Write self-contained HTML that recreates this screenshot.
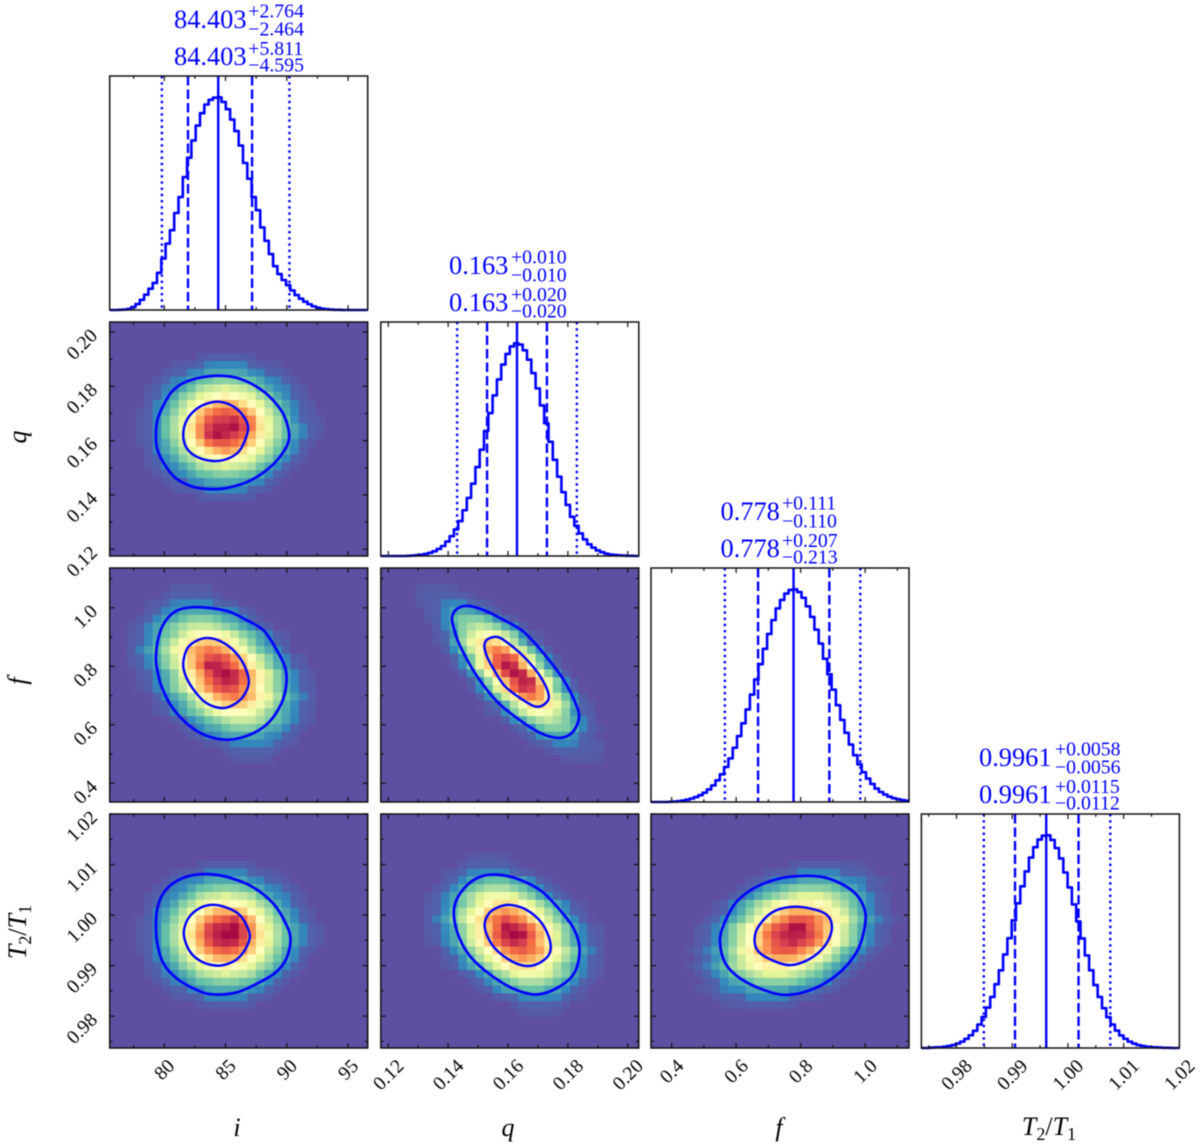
<!DOCTYPE html>
<html lang="en">
<head>
<meta charset="utf-8">
<title>Corner plot of i, q, f and T2/T1</title>
<style>
html,body{margin:0;padding:0;background:#fff;width:1200px;height:1147px;overflow:hidden}
svg{display:block;font-family:"Liberation Serif",serif;filter:blur(0.4px)}
.val{fill:#0000ff;font-size:26.4px}
.scr{fill:#0000ff;font-size:19.8px}
.axt{fill:#000;font-size:26px;font-style:italic}
.axt .up{font-style:normal}
.axt .sub{font-style:normal;font-size:18px}
</style>
</head>
<body>
<svg id="chart" xmlns="http://www.w3.org/2000/svg" width="1200" height="1147" viewBox="0 0 1200 1147">
  <rect width="1200" height="1147" fill="#fff"/>
  <g id="marks"></g>

  <g>
    <text class="val" x="174" y="28">84.403</text><text class="scr" x="248.3" y="17.5">+2.764</text><text class="scr" x="248.3" y="35.5">−2.464</text>
    <text class="val" x="174" y="65">84.403</text><text class="scr" x="248.3" y="55">+5.811</text><text class="scr" x="248.3" y="71.7">−4.595</text>
  </g>
  <g>
    <text class="val" x="449" y="274">0.163</text><text class="scr" x="511" y="263.5">+0.010</text><text class="scr" x="511" y="281.5">−0.010</text>
    <text class="val" x="449" y="311">0.163</text><text class="scr" x="511" y="301">+0.020</text><text class="scr" x="511" y="317.7">−0.020</text>
  </g>
  <g>
    <text class="val" x="720.5" y="520">0.778</text><text class="scr" x="782" y="509.5">+0.111</text><text class="scr" x="782" y="527.5">−0.110</text>
    <text class="val" x="720.5" y="557">0.778</text><text class="scr" x="782" y="547">+0.207</text><text class="scr" x="782" y="563.7">−0.213</text>
  </g>
  <g>
    <text class="val" x="979" y="766">0.9961</text><text class="scr" x="1055" y="755.5">+0.0058</text><text class="scr" x="1055" y="773.5">−0.0056</text>
    <text class="val" x="979" y="803">0.9961</text><text class="scr" x="1055" y="793">+0.0115</text><text class="scr" x="1055" y="809.7">−0.0112</text>
  </g>

  <text class="axt" x="237" y="1136" text-anchor="middle">i</text>
  <text class="axt" x="508" y="1136" text-anchor="middle">q</text>
  <text class="axt" x="779" y="1136" text-anchor="middle">f</text>
  <text class="axt" x="1049" y="1135" text-anchor="middle">T<tspan class="sub" dy="5">2</tspan><tspan class="up" dy="-5">/</tspan>T<tspan class="sub" dy="5">1</tspan></text>

  <text class="axt" transform="translate(26 437) rotate(-90)" text-anchor="middle">q</text>
  <text class="axt" transform="translate(26 681) rotate(-90)" text-anchor="middle">f</text>
  <text class="axt" transform="translate(26 932) rotate(-90)" text-anchor="middle">T<tspan class="sub" dy="5">2</tspan><tspan class="up" dy="-5">/</tspan>T<tspan class="sub" dy="5">1</tspan></text>
</svg>

<script>
// ---------- axis data ----------
const parameters = ['i', 'q', 'f', 't'];
const iRange = [75.55, 96.6];
const qRange = [0.1175, 0.2037];
const fRange = [0.336, 1.136];
const tRange = [0.9737, 1.02];
const iTickLabels = ['80', '85', '90', '95'];
const qTickLabels = ['0.12', '0.14', '0.16', '0.18', '0.20'];
const fTickLabels = ['0.4', '0.6', '0.8', '1.0'];
const tTickLabels = ['0.98', '0.99', '1.00', '1.01', '1.02'];
const iMinorTicks = [77.5, 82.5, 87.5, 92.5];
const qMinorTicks = [0.13, 0.15, 0.17, 0.19];
const fMinorTicks = [0.5, 0.7, 0.9, 1.1];
const tMinorTicks = [0.975, 0.985, 0.995, 1.005, 1.015];

// ---------- credible intervals: low 2-sigma, low 1-sigma, median, high 1-sigma, high 2-sigma ----------
const iQuantiles = [79.808, 81.939, 84.403, 87.167, 90.214];
const qQuantiles = [0.143, 0.153, 0.163, 0.173, 0.183];
const fQuantiles = [0.565, 0.668, 0.778, 0.889, 0.985];
const tQuantiles = [0.9849, 0.9905, 0.9961, 1.0019, 1.0076];

// ---------- marginal histograms (60 bins, peak-normalised) ----------
const iHist = [0,0,.001,.002,.005,.014,.028,.048,.072,.1,.127,.175,.242,.312,.375,.456,.531,.625,.716,.797,.867,.925,.966,.988,.998,1,.978,.944,.895,.841,.773,.691,.617,.531,.469,.388,.325,.263,.206,.169,.141,.117,.092,.07,.053,.039,.027,.017,.011,.006,.004,.002,.001,.001,0,0,0,0,0,0];
const qHist = [0,0,0,0,0,0,.001,.002,.004,.006,.01,.015,.022,.033,.047,.068,.093,.125,.164,.215,.273,.34,.418,.5,.588,.672,.755,.83,.9,.95,.985,1,.994,.967,.923,.86,.788,.708,.624,.537,.452,.373,.3,.24,.184,.142,.106,.078,.055,.039,.026,.018,.011,.007,.005,.003,.002,.001,.001,0];
const fHist = [0,0,0,0,.001,.002,.004,.007,.011,.016,.023,.032,.044,.059,.078,.102,.13,.165,.205,.255,.31,.37,.435,.505,.576,.648,.72,.79,.855,.91,.95,.98,.997,1,.987,.96,.92,.87,.81,.745,.673,.6,.528,.455,.386,.325,.27,.22,.177,.14,.11,.085,.063,.047,.035,.025,.018,.013,.009,.006];
const tHist = [0,0,.002,.003,.004,.006,.01,.014,.021,.03,.043,.06,.081,.11,.146,.19,.24,.3,.365,.44,.516,.6,.68,.76,.83,.895,.944,.98,.998,1,.978,.94,.891,.825,.755,.675,.595,.515,.435,.365,.296,.24,.187,.145,.11,.082,.059,.043,.03,.021,.014,.01,.006,.004,.003,.002,.001,.001,0,0];

// ---------- 2D densities (30 x 30 bins, top row first, level 0-20; omitted cells are level 0) ----------
const heatQI = [
[],[],[],[],
[0,0,0,0,0,0,0,0,0,0,1,1,1,1,1,1,1],
[0,0,0,0,0,0,0,1,1,1,1,2,2,2,2,2,1,1,1,1],
[0,0,0,0,0,0,1,1,1,2,2,3,3,3,3,3,2,2,1,1,1],
[0,0,0,0,0,1,1,2,2,3,4,4,5,5,5,4,4,3,2,2,1,1],
[0,0,0,0,1,1,2,2,3,4,6,7,7,8,7,7,6,4,3,2,2,1,1],
[0,0,0,0,1,1,2,3,5,6,8,9,10,11,10,9,8,6,5,3,2,1,1],
[0,0,0,0,1,2,3,4,6,8,10,12,14,14,14,12,10,8,6,4,3,2,1,1],
[0,0,0,1,1,2,3,5,7,10,13,15,16,17,16,15,13,10,7,5,3,2,1,1],
[0,0,0,1,1,2,4,6,8,11,14,17,18,18,19,17,16,11,8,6,4,2,1,1,1],
[0,0,0,1,1,2,4,6,9,12,15,18,19,19,20,18,16,12,9,6,4,3,2,1,1],
[0,0,0,1,1,2,4,6,8,11,15,19,20,19,18,17,14,11,8,6,4,3,2,1,1],
[0,0,0,1,1,2,3,5,7,10,13,16,17,17,16,15,13,10,7,5,3,2,1,1],
[0,0,0,0,1,2,3,4,6,8,10,12,14,15,14,12,10,8,6,4,3,2,1],
[0,0,0,0,1,1,2,3,5,6,8,9,10,11,10,9,8,6,5,3,2,1,1],
[0,0,0,0,1,1,2,2,3,4,6,7,7,8,7,7,6,4,3,2,1,1],
[0,0,0,0,0,1,1,2,2,3,4,4,5,5,5,4,4,3,2,1,1],
[0,0,0,0,0,0,1,1,1,2,2,3,3,3,3,3,2,2,1,1],
[0,0,0,0,0,0,0,1,1,1,1,2,2,2,2,2,1,1,1],
[0,0,0,0,0,0,0,0,0,0,1,1,1,1,1,1,1]
];
const heatFI = [
[],[],
[0,0,0,0,0,0,0,1,1,1,1,1],
[0,0,0,0,0,0,1,1,1,1,1,1,1],
[0,0,0,0,1,1,1,2,2,2,2,2,1,1,1],
[0,0,0,0,1,1,2,2,3,3,3,3,3,2,2,1,1],
[0,0,0,1,1,2,3,3,4,5,5,5,4,3,3,2,1,1],
[0,0,1,1,2,3,4,5,6,7,7,7,6,5,4,3,2,1,1],
[0,0,1,1,2,3,4,5,7,9,10,10,10,9,7,5,4,3,2,1,1],
[0,0,1,1,2,3,5,7,9,11,13,13,13,11,9,7,5,3,2,1,1],
[0,0,1,2,3,4,6,9,11,14,15,16,15,14,11,9,6,4,3,2,1],
[0,0,1,1,2,3,5,7,10,13,15,17,18,17,15,13,10,7,5,3,2,1,1],
[0,0,1,1,2,3,5,7,11,13,16,20,19,18,16,13,11,7,5,3,2,1,1],
[0,0,0,1,1,2,3,5,8,11,14,17,19,20,19,17,14,11,8,5,3,2,1,1],
[0,0,0,1,1,2,3,5,7,11,13,16,18,19,19,16,13,11,7,5,3,2,1,1],
[0,0,0,1,1,2,3,5,7,10,13,15,17,18,17,15,13,10,7,5,3,2,1,1],
[0,0,0,0,0,1,2,3,4,6,9,11,14,15,16,15,14,11,9,6,4,3,2,1],
[0,0,0,0,0,1,1,2,3,5,7,9,11,13,13,13,11,9,7,5,3,2,1,1],
[0,0,0,0,0,1,1,2,3,4,5,7,9,10,10,10,9,7,5,4,3,2,1,1],
[0,0,0,0,0,0,0,1,1,2,3,4,5,6,7,7,7,6,5,4,3,2,1,1],
[0,0,0,0,0,0,0,0,1,1,2,3,3,4,5,5,5,4,3,3,2,1,1],
[0,0,0,0,0,0,0,0,0,1,1,2,2,3,3,3,3,3,2,2,1,1],
[0,0,0,0,0,0,0,0,0,0,0,1,1,1,2,2,2,2,2,1,1,1],
[0,0,0,0,0,0,0,0,0,0,0,0,0,1,1,1,1,1,1,1],
[0,0,0,0,0,0,0,0,0,0,0,0,0,0,1,1,1,1,1]
];
const heatFQ = [
[],[],
[0,0,0,0,1,1,1,1,1],
[0,0,0,0,1,1,1,1,1,1,1],
[0,0,0,0,1,1,1,2,2,2,1,1,1],
[0,0,0,0,0,1,1,2,3,3,3,2,1,1],
[0,0,0,0,0,1,1,2,4,5,5,5,4,2,1,1],
[0,0,0,0,0,0,1,2,3,5,6,7,6,5,3,2,1],
[0,0,0,0,0,0,1,1,2,5,7,9,10,9,7,5,2,1,1],
[0,0,0,0,0,0,1,1,3,6,9,12,13,12,9,6,3,1,1],
[0,0,0,0,0,0,0,1,2,4,7,11,15,16,15,11,7,4,2,1],
[0,0,0,0,0,0,0,0,1,2,4,8,13,17,18,17,13,8,4,2,1],
[0,0,0,0,0,0,0,0,1,2,5,9,13,17,20,19,13,9,5,2,1],
[0,0,0,0,0,0,0,0,0,1,2,5,9,14,18,20,20,14,9,5,2,1],
[0,0,0,0,0,0,0,0,0,0,1,2,5,9,13,17,19,20,13,9,5,2,1],
[0,0,0,0,0,0,0,0,0,0,1,2,4,8,13,17,19,18,15,8,4,2,1],
[0,0,0,0,0,0,0,0,0,0,0,1,2,4,7,11,15,16,15,11,7,4,2,1],
[0,0,0,0,0,0,0,0,0,0,0,0,1,1,3,6,9,12,13,12,9,6,3,1,1],
[0,0,0,0,0,0,0,0,0,0,0,0,1,1,2,5,7,9,10,9,7,5,2,1,1],
[0,0,0,0,0,0,0,0,0,0,0,0,0,0,1,2,3,5,6,7,6,5,3,2,1],
[0,0,0,0,0,0,0,0,0,0,0,0,0,0,0,1,1,2,4,5,5,5,4,2,1,1],
[0,0,0,0,0,0,0,0,0,0,0,0,0,0,0,0,1,1,2,3,3,3,2,1,1],
[0,0,0,0,0,0,0,0,0,0,0,0,0,0,0,0,0,1,1,1,2,2,2,1,1,1],
[0,0,0,0,0,0,0,0,0,0,0,0,0,0,0,0,0,0,0,1,1,1,1,1,1,1],
[0,0,0,0,0,0,0,0,0,0,0,0,0,0,0,0,0,0,0,0,0,1,1,1,1,1]
];
const heatTI = [
[],[],[],[],[],[],
[0,0,0,0,0,0,0,0,0,0,1,1,1,1,1,1,1],
[0,0,0,0,0,0,0,1,1,1,1,2,2,2,2,2,1,1,1,1],
[0,0,0,0,0,0,1,1,2,2,2,3,3,3,3,3,2,2,1,1,1],
[0,0,0,0,0,1,1,2,2,3,4,4,5,5,5,4,4,3,2,2,1,1],
[0,0,0,0,1,1,2,2,3,4,6,7,7,8,7,7,6,4,3,2,2,1,1],
[0,0,0,0,1,1,2,3,5,6,8,9,10,11,10,9,8,6,5,3,2,1,1],
[0,0,0,0,1,2,3,4,6,8,10,12,14,14,14,13,10,8,6,4,3,2,1,1],
[0,0,0,1,1,2,3,5,7,10,13,15,16,17,19,16,14,10,7,5,3,2,1,1],
[0,0,0,1,1,2,4,6,8,11,14,18,19,19,20,18,15,11,8,6,4,3,2,1,1],
[0,0,0,1,1,2,4,6,9,12,15,18,19,20,20,18,15,12,9,6,4,3,2,1,1],
[0,0,0,1,1,2,4,6,8,11,14,17,19,19,19,17,14,11,8,6,4,3,2,1,1],
[0,0,0,1,1,2,3,5,7,10,13,15,16,17,16,15,13,10,7,5,3,2,1,1],
[0,0,0,0,1,2,3,4,6,8,10,12,14,14,14,12,10,8,6,4,3,2,1],
[0,0,0,0,1,1,2,3,5,6,8,9,10,11,10,9,8,6,5,3,2,1,1],
[0,0,0,0,1,1,2,2,3,4,6,7,7,8,7,7,6,4,3,2,1,1],
[0,0,0,0,0,1,1,2,2,3,4,4,5,5,5,4,4,3,2,1,1],
[0,0,0,0,0,0,1,1,1,2,2,3,3,3,3,3,2,2,1,1],
[0,0,0,0,0,0,0,1,1,1,1,2,2,2,2,2,1,1,1],
[0,0,0,0,0,0,0,0,0,0,1,1,1,1,1,1,1]
];
const heatTQ = [
[],[],[],[],[],
[0,0,0,0,0,0,0,0,0,0,1,1,1,1,1],
[0,0,0,0,0,0,0,0,0,1,1,1,1,1,1,1],
[0,0,0,0,0,0,0,1,1,1,2,2,2,2,2,1,1,1],
[0,0,0,0,0,0,0,1,1,2,3,3,4,4,4,3,3,2,1,1],
[0,0,0,0,0,0,1,1,2,3,4,5,6,6,6,5,4,3,2,1,1],
[0,0,0,0,0,1,1,2,3,5,6,8,9,9,9,8,6,5,3,2,1,1],
[0,0,0,0,0,1,1,2,3,4,6,8,10,12,12,12,10,8,6,4,3,2,1,1],
[0,0,0,0,0,1,1,2,4,6,8,10,13,14,15,14,13,10,8,6,4,2,1,1],
[0,0,0,0,0,1,2,3,5,7,10,12,15,16,18,16,15,12,10,7,5,3,2,1],
[0,0,0,0,0,1,1,2,3,5,7,11,13,16,20,19,18,16,13,11,7,5,3,2,1,1],
[0,0,0,0,0,1,1,2,3,5,8,11,14,17,19,20,20,17,14,11,8,5,3,2,1,1],
[0,0,0,0,0,1,1,2,3,5,7,11,13,16,18,19,18,16,13,11,7,5,3,2,1,1],
[0,0,0,0,0,0,0,1,2,3,5,7,10,12,15,16,17,16,15,12,10,7,5,3,2,1],
[0,0,0,0,0,0,0,1,1,2,4,6,8,10,13,14,15,14,13,10,8,6,4,2,1,1],
[0,0,0,0,0,0,0,1,1,2,3,4,6,8,10,12,12,12,10,8,6,4,3,2,1,1],
[0,0,0,0,0,0,0,0,0,1,1,2,3,5,6,8,9,9,9,8,6,5,3,2,1,1],
[0,0,0,0,0,0,0,0,0,0,1,1,2,3,4,5,6,6,6,5,4,3,2,1,1],
[0,0,0,0,0,0,0,0,0,0,0,1,1,2,3,3,4,4,4,3,3,2,1,1],
[0,0,0,0,0,0,0,0,0,0,0,0,0,1,1,1,2,2,2,2,2,1,1,1],
[0,0,0,0,0,0,0,0,0,0,0,0,0,0,0,1,1,1,1,1,1,1],
[0,0,0,0,0,0,0,0,0,0,0,0,0,0,0,0,1,1,1,1,1]
];
const heatTF = [
[],[],[],[],[],[],
[0,0,0,0,0,0,0,0,0,0,0,0,0,0,0,0,1,1,1,1,1,1,1,1,1],
[0,0,0,0,0,0,0,0,0,0,0,0,0,1,1,1,1,2,2,2,2,2,1,1,1,1],
[0,0,0,0,0,0,0,0,0,0,0,1,1,1,2,2,2,3,3,3,3,3,2,2,2,1,1,1],
[0,0,0,0,0,0,0,0,0,0,1,1,2,3,3,4,5,5,5,5,5,4,3,3,2,1,1],
[0,0,0,0,0,0,0,0,0,1,1,2,3,4,5,6,7,8,8,8,7,6,5,4,3,2,1,1],
[0,0,0,0,0,0,0,1,1,2,3,4,6,7,9,10,11,11,11,10,9,7,6,4,3,2,1,1],
[0,0,0,0,0,0,0,1,1,2,3,5,7,9,11,13,14,14,14,13,11,9,7,5,3,2,1,1],
[0,0,0,0,0,0,1,1,2,3,4,6,9,11,14,15,17,17,17,15,14,11,9,6,4,3,2,1,1],
[0,0,0,0,0,1,1,2,3,5,7,10,12,15,17,18,20,20,17,15,13,10,7,5,3,2,1,1],
[0,0,0,0,0,1,1,2,3,5,7,10,13,16,18,19,19,19,18,16,13,10,7,5,3,2,1,1],
[0,0,0,0,0,1,1,2,3,5,7,10,12,15,17,18,19,18,17,15,12,10,7,5,3,2,1,1],
[0,0,0,0,1,1,2,3,4,6,9,11,14,15,17,17,17,15,14,11,9,6,4,3,2,1,1],
[0,0,0,0,0,1,1,2,3,5,7,9,11,13,14,14,14,13,11,9,7,5,3,2,1,1],
[0,0,0,0,1,1,2,3,4,6,7,9,10,11,11,11,10,9,7,6,4,3,2,1,1],
[0,0,0,0,0,1,1,2,3,4,5,6,7,8,8,8,7,6,5,4,3,2,1,1],
[0,0,0,0,0,0,1,1,2,3,3,4,5,5,5,5,5,4,3,3,2,1,1],
[0,0,0,0,0,1,1,1,2,2,2,3,3,3,3,3,2,2,2,1,1,1],
[0,0,0,0,0,0,0,1,1,1,1,2,2,2,2,2,1,1,1,1],
[0,0,0,0,0,0,0,0,1,1,1,1,1,1,1,1,1]
];

// ---------- contour lines [x data, y data] ----------
const contourQIOuterX = [79.32,79.43,79.92,80.6,81.55,82.91,84.54,86.17,87.8,89.02,89.84,90.19,89.7,88.61,86.98,85.35,84,82.36,80.87,79.92,79.43];
const contourQIOuterY = [.1618,.1674,.1729,.1779,.1812,.1832,.1839,.1828,.1791,.1742,.1686,.1612,.1557,.1501,.1452,.1428,.1421,.143,.1464,.152,.1569];
const contourQIInnerX = [81.55,81.82,82.64,83.59,84.54,85.63,86.44,86.85,86.58,86.03,85.08,83.99,82.77,81.88];
const contourQIInnerY = [.1618,.1674,.1717,.1738,.1743,.1726,.1692,.1649,.16,.1557,.1532,.1525,.1538,.1569];
const contourFIOuterX = [79.32,79.51,80.05,81.01,82.36,83.99,85.35,86.71,88.07,89.02,89.84,89.97,89.57,88.48,86.98,85.22,83.45,81.96,80.6,79.78,79.43];
const contourFIOuterY = [.827,.895,.952,.99,1.002,.998,.986,.958,.924,.867,.799,.742,.674,.606,.566,.549,.5625,.6,.6625,.731,.7875];
const contourFIInnerX = [81.55,81.88,82.64,83.59,84.67,85.76,86.58,86.9,86.44,85.63,84.67,83.45,82.5,81.77];
const contourFIInnerY = [.81,.861,.8875,.897,.884,.85,.799,.744,.697,.668,.657,.674,.714,.765];
const contourFQOuterX = [.1413,.1432,.1469,.1524,.1586,.1652,.1719,.1786,.183,.1836,.1813,.1769,.1708,.163,.1563,.1497,.1441,.1419];
const contourFQOuterY = [.969,.998,1.006,.99,.958,.918,.844,.753,.6625,.617,.572,.555,.572,.623,.68,.765,.867,.93];
const contourFQInnerX = [.1522,.1536,.1569,.1613,.1663,.1708,.1736,.1724,.1691,.1641,.1586,.1541,.1524];
const contourFQInnerY = [.878,.895,.899,.869,.822,.765,.702,.672,.6625,.691,.736,.81,.85];
const contourTIOuterX = [79.32,79.43,79.92,80.73,81.96,83.59,85.35,87.26,88.89,89.84,90.3,89.97,89.02,87.53,85.9,83.99,82.64,81,79.92,79.43];
const contourTIOuterY = [.998,1.0013,1.0043,1.0063,1.0077,1.0081,1.0074,1.0055,1.0023,.9987,.9954,.9914,.9885,.9864,.9847,.9843,.9852,.9875,.9905,.9944];
const contourTIInnerX = [81.6,81.88,82.64,83.72,84.95,86.17,86.93,86.85,86.17,85.35,84.27,83.04,82.09];
const contourTIInnerY = [.9961,.999,1.001,1.002,1.0016,1,.9967,.9944,.9918,.9905,.99,.9908,.9928];
const contourTQOuterX = [.1419,.1428,.1463,.1508,.1563,.163,.1708,.1769,.1819,.1839,.1824,.1774,.1697,.1619,.1541,.1474,.1436];
const contourTQOuterY = [1,1.003,1.0059,1.0076,1.008,1.0072,1.0049,1.0013,.9974,.9934,.9888,.9859,.9843,.9854,.9882,.9918,.9957];
const contourTQInnerX = [.1522,.1536,.1569,.1608,.1663,.1713,.1741,.1736,.1697,.1652,.1597,.1547];
const contourTQInnerY = [.9977,1.0003,1.0016,1.002,1.001,.9984,.9947,.9921,.9903,.99,.9914,.9941];
const contourTFOuterX = [.55,.561,.597,.644,.7,.768,.861,.923,.975,1.001,.991,.965,.913,.84,.758,.685,.612,.566];
const contourTFOuterY = [.9947,.998,1.0023,1.0049,1.0066,1.0076,1.0076,1.0063,1.0039,1.0003,.9954,.9918,.9882,.9854,.9842,.9852,.9875,.9905];
const contourTFInnerX = [.657,.669,.711,.768,.83,.882,.897,.877,.83,.768,.711,.669];
const contourTFInnerY = [.9951,.9977,1.0005,1.0016,1.0013,1,.9974,.9941,.9914,.9901,.9911,.9928];

// ---------- layout and style ----------
const panelW = 258, panelH = 234;
const colLeft = [109.7, 380.8, 651, 921.4];
const rowTop = [76, 322, 568, 814];
const spectralStops = ['#5e4fa2','#3288bd','#66c2a5','#abdda4','#e6f598','#ffffbf','#fee08b','#fdae61','#f46d43','#d53e4f','#9e0142'];
const NS = 'http://www.w3.org/2000/svg';
const root = document.getElementById('marks');

const ranges = { i: iRange, q: qRange, f: fRange, t: tRange };
const tickLabels = { i: iTickLabels, q: qTickLabels, f: fTickLabels, t: tTickLabels };
const minorTicks = { i: iMinorTicks, q: qMinorTicks, f: fMinorTicks, t: tMinorTicks };
const hists = { i: iHist, q: qHist, f: fHist, t: tHist };
const quantiles = { i: iQuantiles, q: qQuantiles, f: fQuantiles, t: tQuantiles };

function make(tag, parent, attrs) {
  const el = document.createElementNS(NS, tag);
  for (const k in attrs) el.setAttribute(k, attrs[k]);
  parent.appendChild(el);
  return el;
}
function xScale(name, col) {
  const r = ranges[name];
  return v => colLeft[col] + (v - r[0]) / (r[1] - r[0]) * panelW;
}
function yScale(name, row) {
  const r = ranges[name];
  return v => rowTop[row] + panelH - (v - r[0]) / (r[1] - r[0]) * panelH;
}
function spectral(raw) {
  // the faintest levels fade gently into the background colour
  const level = raw < 2 ? raw * raw / 2 : raw;
  const t = Math.max(0, Math.min(1, level / 20)) * 10;
  const a = Math.min(9, Math.floor(t));
  const f = t - a;
  const p = h => [1, 3, 5].map(i => parseInt(h.substr(i, 2), 16));
  const c0 = p(spectralStops[a]);
  const c1 = p(spectralStops[a + 1]);
  return 'rgb(' + c0.map((c, i) => Math.round(c + (c1[i] - c) * f)).join(',') + ')';
}
function softened(grid) {
  const w = [0.1, 0.8, 0.1];
  const at = (r, c) => (grid[r] && grid[r][c]) || 0;
  const out = [];
  for (let r = 0; r < 30; r++) {
    out.push([]);
    for (let c = 0; c < 30; c++) {
      let s = 0;
      for (let a = -1; a <= 1; a++) for (let b = -1; b <= 1; b++) s += w[a + 1] * w[b + 1] * at(r + a, c + b);
      out[r].push(s);
    }
  }
  return out;
}
function textWidth(s, size) {
  let w = 0;
  for (const ch of s) w += ch === '.' ? 0.25 : 0.5;
  return w * size;
}
function closedSpline(pts) {
  const n = pts.length;
  let d = 'M' + pts[0][0].toFixed(2) + ' ' + pts[0][1].toFixed(2);
  for (let i = 0; i < n; i++) {
    const p0 = pts[(i - 1 + n) % n], p1 = pts[i], p2 = pts[(i + 1) % n], p3 = pts[(i + 2) % n];
    const c1x = p1[0] + (p2[0] - p0[0]) / 6, c1y = p1[1] + (p2[1] - p0[1]) / 6;
    const c2x = p2[0] - (p3[0] - p1[0]) / 6, c2y = p2[1] - (p3[1] - p1[1]) / 6;
    d += 'C' + c1x.toFixed(2) + ' ' + c1y.toFixed(2) + ' ' + c2x.toFixed(2) + ' ' + c2y.toFixed(2) + ' ' + p2[0].toFixed(2) + ' ' + p2[1].toFixed(2);
  }
  return d + 'Z';
}

function drawFrame(parent, col, row) {
  const frame = make('rect', parent, { x: colLeft[col], y: rowTop[row], width: panelW, height: panelH, fill: 'none', stroke: '#111', 'stroke-width': 1.5 });
  
  
}
function drawTicks(parent, xName, col, yName, row) {
  const x = xScale(xName, col);
  const top = rowTop[row], bottom = top + panelH, left = colLeft[col], right = left + panelW;
  const seg = (x1, y1, x2, y2) => {
    const tick = make('line', parent, { x1, y1, x2, y2, stroke: '#111', 'stroke-width': 1.2 });
    
    
  };
  const xMajor = tickLabels[xName].map(Number);
  xMajor.forEach(v => { seg(x(v), top, x(v), top + 5); seg(x(v), bottom, x(v), bottom - 5); });
  minorTicks[xName].forEach(v => { seg(x(v), top, x(v), top + 2.8); seg(x(v), bottom, x(v), bottom - 2.8); });
  if (yName) {
    const y = yScale(yName, row);
    tickLabels[yName].map(Number).forEach(v => { seg(left, y(v), left + 5, y(v)); seg(right, y(v), right - 5, y(v)); });
    minorTicks[yName].forEach(v => { seg(left, y(v), left + 2.8, y(v)); seg(right, y(v), right - 2.8, y(v)); });
  }
}
function drawHistogram(name, k) {
  const group = make('g', root, {});
  
  
  const x = xScale(name, k);
  const r = ranges[name];
  const values = hists[name];
  const bottom = rowTop[k] + panelH;
  const y = v => bottom - v / 1.1 * panelH;
  const step = (r[1] - r[0]) / values.length;
  let d = 'M' + x(r[0]).toFixed(2) + ' ' + bottom;
  values.forEach((v, i) => {
    d += 'L' + x(r[0] + i * step).toFixed(2) + ' ' + y(v).toFixed(2);
    d += 'L' + x(r[0] + (i + 1) * step).toFixed(2) + ' ' + y(v).toFixed(2);
  });
  const line = make('path', group, { d, fill: 'none', stroke: '#0000ff', 'stroke-width': 2.6, 'stroke-linejoin': 'round' });
  
  
  const dashes = ['2.4 3.8', '9.5 4', 'none', '9.5 4', '2.4 3.8'];
  quantiles[name].forEach((q, i) => {
    const attrs = { x1: x(q), x2: x(q), y1: rowTop[k], y2: bottom, stroke: '#0000ff', 'stroke-width': 2.4 };
    if (dashes[i] !== 'none') attrs['stroke-dasharray'] = dashes[i];
    const marker = make('line', group, attrs);
    
    
  });
  drawFrame(group, k, k);
  drawTicks(group, name, k, null, k);
}
function drawHeat(xName, col, yName, row, grid, outerX, outerY, innerX, innerY) {
  const group = make('g', root, {});
  
  
  const x = xScale(xName, col), y = yScale(yName, row);
  const rx = ranges[xName], ry = ranges[yName];
  const back = make('rect', group, { x: colLeft[col], y: rowTop[row], width: panelW, height: panelH, fill: spectralStops[0] });
  
  
  const dx = (rx[1] - rx[0]) / 30, dy = (ry[1] - ry[0]) / 30;
  softened(grid).forEach((cells, r) => {
    cells.forEach((level, c) => {
      if (level < 0.05) return;
      const x0 = x(rx[0] + c * dx), x1 = x(rx[0] + (c + 1) * dx);
      const y0 = y(ry[1] - r * dy), y1 = y(ry[1] - (r + 1) * dy);
      const cell = make('rect', group, { x: x0.toFixed(2), y: y0.toFixed(2), width: (x1 - x0 + 0.4).toFixed(2), height: (y1 - y0 + 0.4).toFixed(2), fill: spectral(level) });
      
      
    });
  });
  [[outerX, outerY, 2.7, 'contour-outer'], [innerX, innerY, 2.4, 'contour-inner']].forEach(spec => {
    const pts = spec[0].map((v, i) => [x(v), y(spec[1][i])]);
    const contour = make('path', group, { d: closedSpline(pts), fill: 'none', stroke: '#0000ff', 'stroke-width': spec[2] });
    
    
  });
  drawFrame(group, col, row);
  drawTicks(group, xName, col, yName, row);
}
function drawTickLabels() {
  const size = 19.5, capH = 13;
  const group = make('g', root, { 'font-size': size, fill: '#000' });
  
  
  parameters.forEach((name, k) => {
    const x = xScale(name, k);
    tickLabels[name].forEach(s => {
      const half = (textWidth(s, size) + capH) * 0.354;
      const cx = x(Number(s)), cy = 1058 + half;
      const label = make('text', group, { x: cx, y: cy, dy: '0.33em', 'text-anchor': 'middle', transform: 'rotate(-45 ' + cx + ' ' + cy + ')' });
      
      
      label.textContent = s;
    });
    if (k === 0) return;
    const y = yScale(name, k);
    tickLabels[name].forEach(s => {
      const half = (textWidth(s, size) + capH) * 0.354;
      const cx = 98.5 - half, cy = y(Number(s)) + half - 4.5;
      const label = make('text', group, { x: cx, y: cy, dy: '0.33em', 'text-anchor': 'middle', transform: 'rotate(-45 ' + cx + ' ' + cy + ')' });
      
      
      label.textContent = s;
    });
  });
}

parameters.forEach(drawHistogram);
drawHeat('i', 0, 'q', 1, heatQI, contourQIOuterX, contourQIOuterY, contourQIInnerX, contourQIInnerY);
drawHeat('i', 0, 'f', 2, heatFI, contourFIOuterX, contourFIOuterY, contourFIInnerX, contourFIInnerY);
drawHeat('q', 1, 'f', 2, heatFQ, contourFQOuterX, contourFQOuterY, contourFQInnerX, contourFQInnerY);
drawHeat('i', 0, 't', 3, heatTI, contourTIOuterX, contourTIOuterY, contourTIInnerX, contourTIInnerY);
drawHeat('q', 1, 't', 3, heatTQ, contourTQOuterX, contourTQOuterY, contourTQInnerX, contourTQInnerY);
drawHeat('f', 2, 't', 3, heatTF, contourTFOuterX, contourTFOuterY, contourTFInnerX, contourTFInnerY);
drawTickLabels();
</script>
</body>
</html>
